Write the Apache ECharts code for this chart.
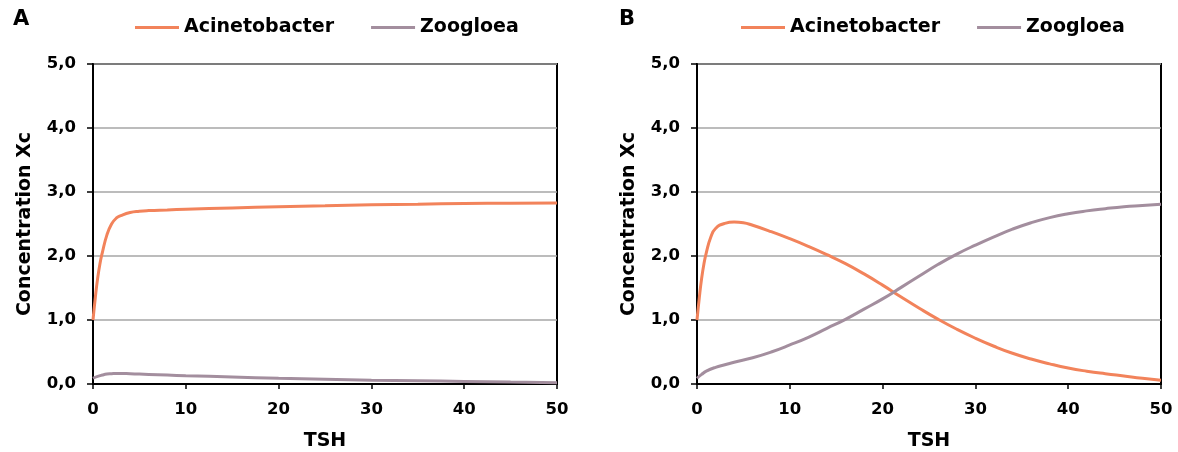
<!DOCTYPE html>
<html><head><meta charset="utf-8">
<script src="https://cdn.jsdelivr.net/npm/echarts@6/dist/echarts.min.js"></script>
<style>html,body{margin:0;padding:0;background:#fff}#c{width:1178px;height:452px}</style>
</head><body><div id="c"></div>
<script>
// Panel A
const tAcinA = [0,0.25,0.5,0.75,1,1.5,2,2.5,3,4,5,6,8,10,15,20,25,30,35,40,45,50];
const acinA  = [1.0,1.35,1.65,1.88,2.05,2.33,2.5,2.59,2.63,2.68,2.70,2.71,2.72,2.73,2.75,2.77,2.785,2.80,2.81,2.82,2.825,2.83];
const tZooA  = [0,0.5,1,1.5,2,2.5,3,4,5,6,8,10,15,20,25,30,35,40,45,50];
const zooA   = [0.09,0.12,0.14,0.155,0.16,0.165,0.165,0.16,0.155,0.15,0.14,0.13,0.11,0.09,0.075,0.06,0.05,0.04,0.03,0.02];
// Panel B
const tAcinB = [0,0.25,0.5,0.75,1,1.5,2,3,4,5,6,8,10,12,14,16,18,20,22,24,26,28,30,32,34,36,38,40,42,44,46,48,50];
const acinB  = [1.0,1.35,1.65,1.88,2.05,2.3,2.43,2.51,2.53,2.52,2.48,2.38,2.27,2.15,2.02,1.88,1.72,1.545,1.36,1.18,1.01,0.855,0.715,0.59,0.48,0.39,0.315,0.25,0.20,0.16,0.125,0.09,0.06];
const tZooB  = [0,0.5,1,2,3,4,6,8,10,12,14,16,18,20,22,24,26,28,30,32,34,36,38,40,42,44,46,48,50];
const zooB   = [0.09,0.15,0.2,0.26,0.3,0.34,0.41,0.5,0.61,0.73,0.87,1.01,1.17,1.33,1.51,1.69,1.87,2.03,2.17,2.30,2.42,2.52,2.60,2.66,2.705,2.74,2.77,2.79,2.81];
const seriesNames = ['Acinetobacter','Zoogloea'];
const panelLabels = ['A','B'];
const xTicks = [0,10,20,30,40,50];
const yTicks = [0,1,2,3,4,5];

const COL_ACIN = '#F2835B';
const COL_ZOO = '#A38E9E';
const FONT = 'DejaVu Sans, Liberation Sans, Arial, sans-serif';

function pairs(t, v){ return t.map((x,i)=>[x, v[i]]); }

const grids = [
  {left:93, top:64, width:464, height:320},
  {left:697, top:64, width:464, height:320}
];

function xAxis(i){
  return {
    type:'value', gridIndex:i, min:xTicks[0], max:xTicks[xTicks.length-1], interval:10,
    name:'TSH', nameLocation:'middle', nameGap:48,
    nameTextStyle:{fontFamily:FONT, fontWeight:'bold', fontSize:19, color:'#000'},
    axisLine:{show:true, onZero:false, lineStyle:{color:'#000', width:2}},
    axisTick:{show:true, length:5, lineStyle:{color:'#000', width:1.5}},
    axisLabel:{fontFamily:FONT, fontWeight:'bold', fontSize:16.5, color:'#000', margin:17},
    splitLine:{show:false}
  };
}
function yAxis(i){
  return {
    type:'value', gridIndex:i, min:yTicks[0], max:yTicks[yTicks.length-1], interval:1,
    name:'Concentration Xc', nameLocation:'middle', nameGap:58, nameRotate:90,
    nameTextStyle:{fontFamily:FONT, fontWeight:'bold', fontSize:19, color:'#000'},
    axisLine:{show:true, onZero:false, lineStyle:{color:'#000', width:2}},
    axisTick:{show:true, length:6, lineStyle:{color:'#000', width:1.5}},
    axisLabel:{fontFamily:FONT, fontWeight:'bold', fontSize:16.5, color:'#000', margin:17,
      formatter:v=>v.toFixed(1).replace('.',',')},
    splitLine:{show:true, lineStyle:{color:'#A6A6A6', width:1.5}}
  };
}
function line(name, data, i, color){
  return {type:'line', name, xAxisIndex:i, yAxisIndex:i, data, smooth:0.5,
    showSymbol:false, symbol:'none', lineStyle:{color, width:3}, itemStyle:{color}, z:3};
}

const legendBase = {
  top:13, itemWidth:44, itemHeight:3, itemGap:37, icon:'rect',
  textStyle:{fontFamily:FONT, fontWeight:'bold', fontSize:19, color:'#000'},
  data:seriesNames
};

const option = {
  animation:false,
  backgroundColor:'#fff',
  title:[
    {text:panelLabels[0], left:13, top:9, padding:0, textStyle:{fontFamily:FONT, fontWeight:'bold', fontSize:21, color:'#000'}},
    {text:panelLabels[1], left:619, top:9, padding:0, textStyle:{fontFamily:FONT, fontWeight:'bold', fontSize:21, color:'#000'}}
  ],
  legend:[
    Object.assign({}, legendBase, {left:130}),
    Object.assign({}, legendBase, {left:736})
  ],
  grid: grids.map(g=>Object.assign({show:true, borderColor:'#000', borderWidth:2, backgroundColor:'transparent',
    containLabel:false, outerBoundsMode:'none'}, g)),
  xAxis:[xAxis(0), xAxis(1)],
  yAxis:[yAxis(0), yAxis(1)],
  series:[
    line(seriesNames[0], pairs(tAcinA, acinA), 0, COL_ACIN),
    line(seriesNames[1], pairs(tZooA, zooA), 0, COL_ZOO),
    line(seriesNames[0], pairs(tAcinB, acinB), 1, COL_ACIN),
    line(seriesNames[1], pairs(tZooB, zooB), 1, COL_ZOO)
  ]
};
const chart = echarts.init(document.getElementById('c'), null, {renderer:'canvas'});
chart.setOption(option);
</script></body></html>
